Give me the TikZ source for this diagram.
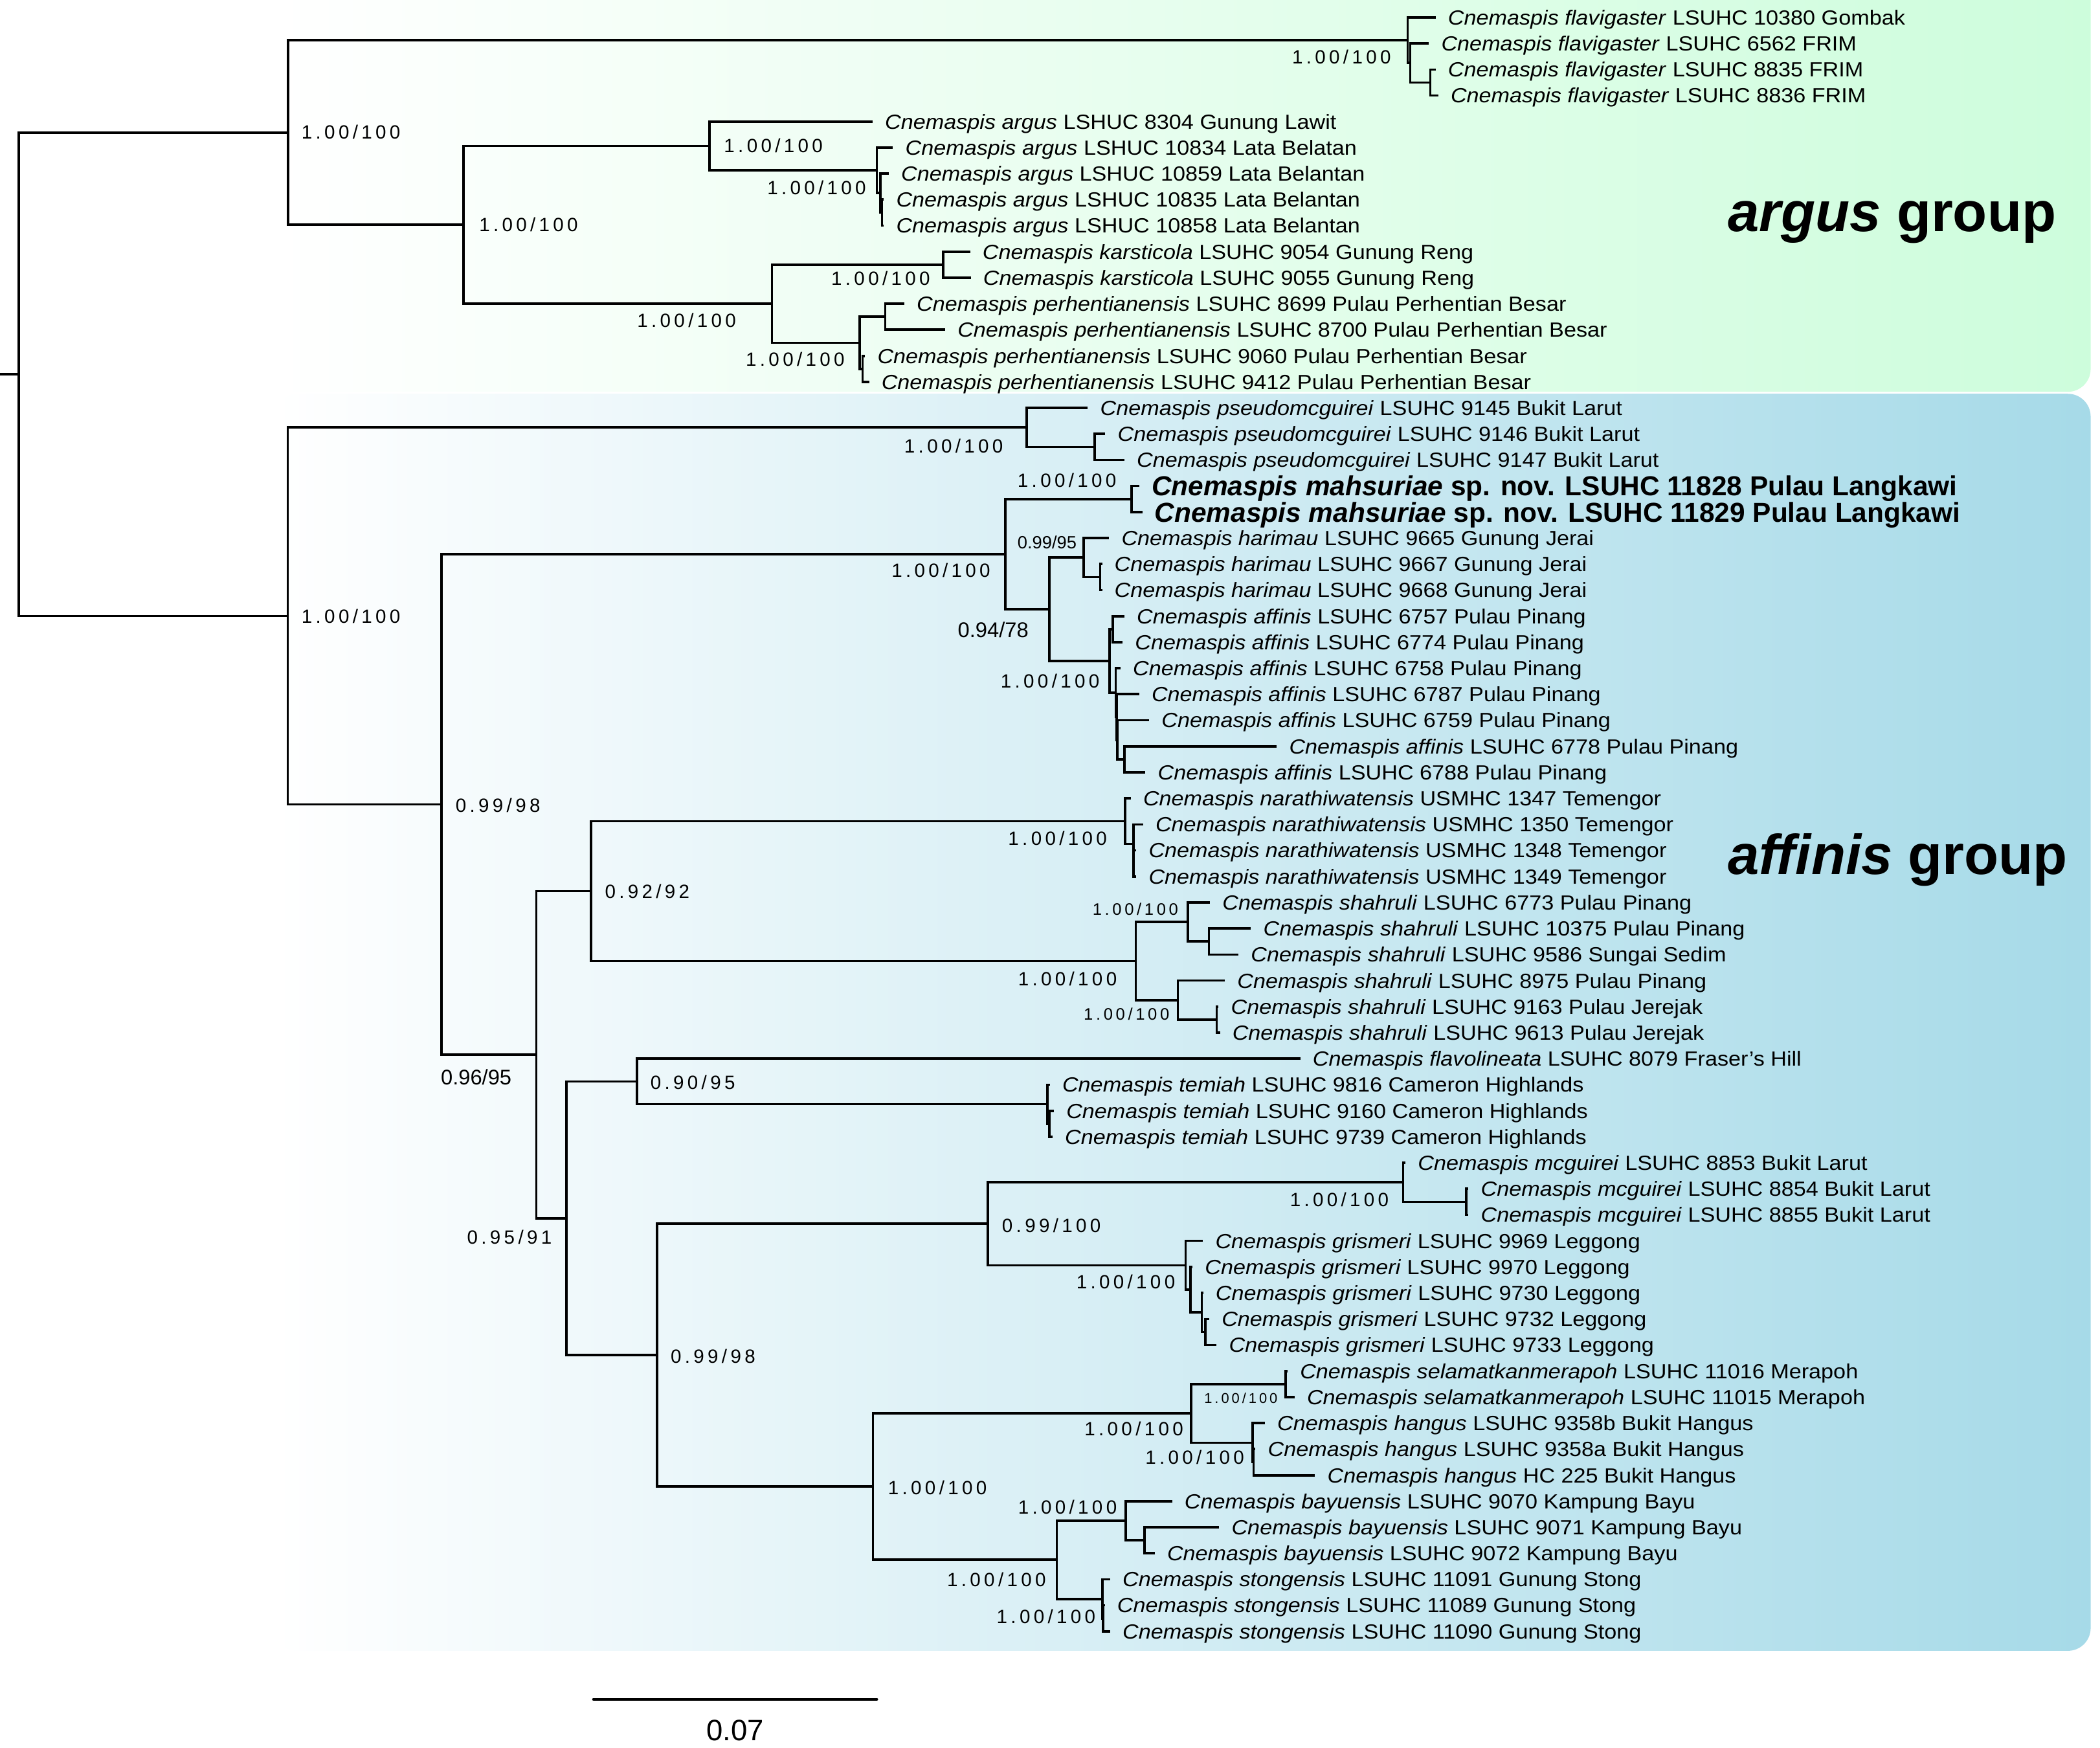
\documentclass[tikz,border=0pt]{standalone}
\usepackage{fontspec}
\setmainfont{Liberation Sans}
\newfontfamily\leaffont{Liberation Sans}[FakeStretch=1.08]
\newfontfamily\trackfont{Liberation Sans}[LetterSpace=18]
\definecolor{argusgreen}{RGB}{205,253,220}
\definecolor{affinisblue}{RGB}{166,218,232}
\tikzset{
  branch/.style={line width=1.8pt, line cap=rect, line join=miter},
  leaf/.style={anchor=base west, inner sep=0pt, font=\leaffont\fontsize{15.3}{18}\selectfont},
  boldleaf/.style={anchor=base west, inner sep=0pt, font=\fontsize{20.5}{24}\selectfont\bfseries},
  bsl/.style={anchor=west, inner sep=0pt, font=\trackfont\fontsize{14.3}{17}\selectfont},
  ssl/.style={anchor=west, inner sep=0pt, font=\trackfont\fontsize{12.4}{15}\selectfont},
  tsl/.style={anchor=west, inner sep=0pt, font=\trackfont\fontsize{10.6}{13}\selectfont},
  nsl/.style={anchor=west, inner sep=0pt, font=\fontsize{15.8}{18}\selectfont},
  msl/.style={anchor=west, inner sep=0pt, font=\fontsize{13.2}{16}\selectfont},
  grp/.style={anchor=base west, inner sep=0pt, font=\fontsize{42}{48}\selectfont\bfseries},
}
\newcommand\Leaf[5]{\coordinate (#1) at (#2,#3);\node[leaf] (#1t) at ([shift={(10,5.5)}]#1) {\textit{Cnemaspis #4} #5};}
\newcommand\Br[2]{\draw[branch] (#1) |- (#2);}
\begin{document}
\begin{tikzpicture}[x=1pt,y=-1pt]
\useasboundingbox (0,0) rectangle (1568,1305);
\clip (0,0) rectangle (1568,1305);
% group backgrounds
\shade[left color=white, right color=argusgreen, rounded corners=17pt] (205,-40) rectangle (1561,292.5);
\shade[left color=white, right color=affinisblue, rounded corners=17pt] (205,294) rectangle (1561,1232.5);
\node[grp] (gargus) at (1290,173) {\textit{argus} group};
\node[grp] (gaffinis) at (1290,653) {\textit{affinis} group};

% leaves
\Leaf{l1}{1071}{13.0}{flavigaster}{LSUHC 10380 Gombak}
\Leaf{l2}{1066}{32.4}{flavigaster}{LSUHC 6562 FRIM}
\Leaf{l3}{1071}{51.9}{flavigaster}{LSUHC 8835 FRIM}
\Leaf{l4}{1073}{71.3}{flavigaster}{LSUHC 8836 FRIM}
\Leaf{l5}{650.6}{90.7}{argus}{LSHUC 8304 Gunung Lawit}
\Leaf{l6}{665.8}{110.2}{argus}{LSHUC 10834 Lata Belatan}
\Leaf{l7}{662.7}{129.6}{argus}{LSHUC 10859 Lata Belantan}
\Leaf{l8}{659}{149.0}{argus}{LSHUC 10835 Lata Belantan}
\Leaf{l9}{659}{168.5}{argus}{LSHUC 10858 Lata Belantan}
\Leaf{l10}{723.5}{187.9}{karsticola}{LSUHC 9054 Gunung Reng}
\Leaf{l11}{724}{207.4}{karsticola}{LSUHC 9055 Gunung Reng}
\Leaf{l12}{674.3}{226.8}{perhentianensis}{LSUHC 8699 Pulau Perhentian Besar}
\Leaf{l13}{704.8}{246.2}{perhentianensis}{LSUHC 8700 Pulau Perhentian Besar}
\Leaf{l14}{645}{265.7}{perhentianensis}{LSUHC 9060 Pulau Perhentian Besar}
\Leaf{l15}{648}{285.1}{perhentianensis}{LSUHC 9412 Pulau Perhentian Besar}
\Leaf{l16}{811.3}{304.5}{pseudomcguirei}{LSUHC 9145 Bukit Larut}
\Leaf{l17}{824.4}{324.0}{pseudomcguirei}{LSUHC 9146 Bukit Larut}
\Leaf{l18}{838.6}{343.4}{pseudomcguirei}{LSUHC 9147 Bukit Larut}
\coordinate (l19) at (849.7,362.8);
\node[boldleaf] (l19t) at ([shift={(10,7.3)}]l19) {\textit{Cnemaspis mahsuriae} sp. nov. LSUHC 11828 Pulau Langkawi};
\coordinate (l20) at (852,382.3);
\node[boldleaf] (l20t) at ([shift={(10,7.3)}]l20) {\textit{Cnemaspis mahsuriae} sp. nov. LSUHC 11829 Pulau Langkawi};
\Leaf{l21}{827.2}{401.7}{harimau}{LSUHC 9665 Gunung Jerai}
\Leaf{l22}{822}{421.1}{harimau}{LSUHC 9667 Gunung Jerai}
\Leaf{l23}{822}{440.6}{harimau}{LSUHC 9668 Gunung Jerai}
\Leaf{l24}{838.6}{460.0}{affinis}{LSUHC 6757 Pulau Pinang}
\Leaf{l25}{837.3}{479.4}{affinis}{LSUHC 6774 Pulau Pinang}
\Leaf{l26}{835.7}{498.9}{affinis}{LSUHC 6758 Pulau Pinang}
\Leaf{l27}{849.7}{518.3}{affinis}{LSUHC 6787 Pulau Pinang}
\Leaf{l28}{857.1}{537.7}{affinis}{LSUHC 6759 Pulau Pinang}
\Leaf{l29}{952.4}{557.2}{affinis}{LSUHC 6778 Pulau Pinang}
\Leaf{l30}{854.3}{576.6}{affinis}{LSUHC 6788 Pulau Pinang}
\Leaf{l31}{843.4}{596.1}{narathiwatensis}{USMHC 1347 Temengor}
\Leaf{l32}{852.6}{615.5}{narathiwatensis}{USMHC 1350 Temengor}
\Leaf{l33}{847.5}{634.9}{narathiwatensis}{USMHC 1348 Temengor}
\Leaf{l34}{847.5}{654.4}{narathiwatensis}{USMHC 1349 Temengor}
\Leaf{l35}{902.6}{673.8}{shahruli}{LSUHC 6773 Pulau Pinang}
\Leaf{l36}{933.1}{693.2}{shahruli}{LSUHC 10375 Pulau Pinang}
\Leaf{l37}{923.8}{712.7}{shahruli}{LSUHC 9586 Sungai Sedim}
\Leaf{l38}{913.7}{732.1}{shahruli}{LSUHC 8975 Pulau Pinang}
\Leaf{l39}{909}{751.5}{shahruli}{LSUHC 9163 Pulau Jerejak}
\Leaf{l40}{910}{771.0}{shahruli}{LSUHC 9613 Pulau Jerejak}
\Leaf{l41}{970}{790.4}{flavolineata}{LSUHC 8079 Fraser’s Hill}
\Leaf{l42}{783}{809.8}{temiah}{LSUHC 9816 Cameron Highlands}
\Leaf{l43}{786}{829.3}{temiah}{LSUHC 9160 Cameron Highlands}
\Leaf{l44}{785}{848.7}{temiah}{LSUHC 9739 Cameron Highlands}
\Leaf{l45}{1048.5}{868.1}{mcguirei}{LSUHC 8853 Bukit Larut}
\Leaf{l46}{1095.5}{887.6}{mcguirei}{LSUHC 8854 Bukit Larut}
\Leaf{l47}{1095.5}{907.0}{mcguirei}{LSUHC 8855 Bukit Larut}
\Leaf{l48}{897.3}{926.4}{grismeri}{LSUHC 9969 Leggong}
\Leaf{l49}{889.5}{945.9}{grismeri}{LSUHC 9970 Leggong}
\Leaf{l50}{897.5}{965.3}{grismeri}{LSUHC 9730 Leggong}
\Leaf{l51}{902}{984.8}{grismeri}{LSUHC 9732 Leggong}
\Leaf{l52}{907.5}{1004.2}{grismeri}{LSUHC 9733 Leggong}
\Leaf{l53}{960.5}{1023.6}{selamatkanmerapoh}{LSUHC 11016 Merapoh}
\Leaf{l54}{965.7}{1043.1}{selamatkanmerapoh}{LSUHC 11015 Merapoh}
\Leaf{l55}{943.5}{1062.5}{hangus}{LSUHC 9358b Bukit Hangus}
\Leaf{l56}{936.5}{1081.9}{hangus}{LSUHC 9358a Bukit Hangus}
\Leaf{l57}{981}{1101.4}{hangus}{HC 225 Bukit Hangus}
\Leaf{l58}{874.3}{1120.8}{bayuensis}{LSUHC 9070 Kampung Bayu}
\Leaf{l59}{909.4}{1140.2}{bayuensis}{LSUHC 9071 Kampung Bayu}
\Leaf{l60}{861.3}{1159.7}{bayuensis}{LSUHC 9072 Kampung Bayu}
\Leaf{l61}{828}{1179.1}{stongensis}{LSUHC 11091 Gunung Stong}
\Leaf{l62}{824}{1198.5}{stongensis}{LSUHC 11089 Gunung Stong}
\Leaf{l63}{828}{1218.0}{stongensis}{LSUHC 11090 Gunung Stong}

% internal nodes
\coordinate (rootstem) at (0,279.4);
\coordinate (root) at (14,279.4);
\coordinate (A) at (215,98.95);
\coordinate (FL1) at (1051,30.0);
\coordinate (FL2) at (1053,47.0);
\coordinate (FL3) at (1068,61.6);
\coordinate (AK) at (346,167.9);
\coordinate (ARG) at (529.6,108.95);
\coordinate (AR2) at (654.7,127.2);
\coordinate (ARX) at (657.5,144.2);
\coordinate (ARY) at (658.5,158.75);
\coordinate (KP) at (576.4,226.8);
\coordinate (KA) at (704.3,197.65);
\coordinate (PE1) at (642,255.95);
\coordinate (PE2) at (661,236.5);
\coordinate (PE3) at (644,275.4);
\coordinate (B) at (214.8,459.85);
\coordinate (PS) at (766.5,319.1);
\coordinate (PS2) at (817.3,333.7);
\coordinate (C) at (329.8,600.6);
\coordinate (MHA) at (750.8,413.7);
\coordinate (MA) at (845,372.55);
\coordinate (HA) at (783.5,454.85);
\coordinate (HR) at (809,416.3);
\coordinate (HR2) at (821.4,430.85);
\coordinate (AF) at (828.4,493.4);
\coordinate (AF1) at (831,469.7);
\coordinate (AF2) at (833.1,517.1);
\coordinate (AF2b) at (833.6,535.3);
\coordinate (AF3) at (834.4,552.3);
\coordinate (AF4) at (839.5,566.9);
\coordinate (D) at (400.5,787.45);
\coordinate (NS) at (441.4,665.3);
\coordinate (N) at (840.1,613.1);
\coordinate (N2) at (846.2,630.1);
\coordinate (N3) at (846.5,644.65);
\coordinate (S) at (848,717.55);
\coordinate (S1) at (886.9,688.4);
\coordinate (S1b) at (902.6,702.95);
\coordinate (S2) at (879.5,746.7);
\coordinate (S2b) at (908.5,761.25);
\coordinate (E) at (423,909.6);
\coordinate (FT) at (475.6,807.4);
\coordinate (T) at (782,824.4);
\coordinate (T2) at (783.5,839.0);
\coordinate (G2) at (490.7,1011.8);
\coordinate (MG) at (737.7,913.7);
\coordinate (MC) at (1047.7,882.7);
\coordinate (MC2) at (1094.7,897.3);
\coordinate (GR) at (885.3,944.65);
\coordinate (GR2) at (889,962.9);
\coordinate (GR3) at (897.3,979.9);
\coordinate (GR4) at (900,994.5);
\coordinate (L1) at (651.8,1109.9);
\coordinate (SH) at (889.2,1055.2);
\coordinate (SEL) at (960,1033.35);
\coordinate (HG) at (935.3,1077.1);
\coordinate (HG2) at (936,1091.65);
\coordinate (BS) at (789.1,1164.55);
\coordinate (BY) at (840.4,1135.4);
\coordinate (BY2) at (854.7,1149.95);
\coordinate (ST) at (823,1193.7);
\coordinate (ST2) at (823.5,1208.25);

% branches
\draw[branch] (rootstem) -- (root);
\Br{root}{A}\Br{root}{B}
\Br{A}{FL1}\Br{A}{AK}
\Br{FL1}{l1}\Br{FL1}{FL2}\Br{FL2}{l2}\Br{FL2}{FL3}\Br{FL3}{l3}\Br{FL3}{l4}
\Br{AK}{ARG}\Br{AK}{KP}
\Br{ARG}{l5}\Br{ARG}{AR2}\Br{AR2}{l6}\Br{AR2}{ARX}\Br{ARX}{l7}\Br{ARX}{ARY}\Br{ARY}{l8}\Br{ARY}{l9}
\Br{KP}{KA}\Br{KP}{PE1}\Br{KA}{l10}\Br{KA}{l11}
\Br{PE1}{PE2}\Br{PE1}{PE3}\Br{PE2}{l12}\Br{PE2}{l13}\Br{PE3}{l14}\Br{PE3}{l15}
\Br{B}{PS}\Br{B}{C}
\Br{PS}{l16}\Br{PS}{PS2}\Br{PS2}{l17}\Br{PS2}{l18}
\Br{C}{MHA}\Br{C}{D}
\Br{MHA}{MA}\Br{MHA}{HA}\Br{MA}{l19}\Br{MA}{l20}
\Br{HA}{HR}\Br{HA}{AF}\Br{HR}{l21}\Br{HR}{HR2}\Br{HR2}{l22}\Br{HR2}{l23}
\Br{AF}{AF1}\Br{AF}{AF2}\Br{AF1}{l24}\Br{AF1}{l25}
\Br{AF2}{l26}\Br{AF2}{AF2b}\Br{AF2b}{l27}\Br{AF2b}{AF3}
\Br{AF3}{l28}\Br{AF3}{AF4}\Br{AF4}{l29}\Br{AF4}{l30}
\Br{D}{NS}\Br{D}{E}
\Br{NS}{N}\Br{NS}{S}
\Br{N}{l31}\Br{N}{N2}\Br{N2}{l32}\Br{N2}{N3}\Br{N3}{l33}\Br{N3}{l34}
\Br{S}{S1}\Br{S}{S2}\Br{S1}{l35}\Br{S1}{S1b}\Br{S1b}{l36}\Br{S1b}{l37}
\Br{S2}{l38}\Br{S2}{S2b}\Br{S2b}{l39}\Br{S2b}{l40}
\Br{E}{FT}\Br{E}{G2}
\Br{FT}{l41}\Br{FT}{T}\Br{T}{l42}\Br{T}{T2}\Br{T2}{l43}\Br{T2}{l44}
\Br{G2}{MG}\Br{G2}{L1}
\Br{MG}{MC}\Br{MG}{GR}\Br{MC}{l45}\Br{MC}{MC2}\Br{MC2}{l46}\Br{MC2}{l47}
\Br{GR}{l48}\Br{GR}{GR2}\Br{GR2}{l49}\Br{GR2}{GR3}\Br{GR3}{l50}\Br{GR3}{GR4}\Br{GR4}{l51}\Br{GR4}{l52}
\Br{L1}{SH}\Br{L1}{BS}
\Br{SH}{SEL}\Br{SH}{HG}\Br{SEL}{l53}\Br{SEL}{l54}
\Br{HG}{l55}\Br{HG}{HG2}\Br{HG2}{l56}\Br{HG2}{l57}
\Br{BS}{BY}\Br{BS}{ST}\Br{BY}{l58}\Br{BY}{BY2}\Br{BY2}{l59}\Br{BY2}{l60}
\Br{ST}{l61}\Br{ST}{ST2}\Br{ST2}{l62}\Br{ST2}{l63}

% support values
\node[bsl] (sFL1) at (964.6,42.7) {1.00/100};
\node[bsl] (sA) at (225,98.5) {1.00/100};
\node[bsl] (sAK) at (357.6,167.7) {1.00/100};
\node[bsl] (sARG) at (540.4,108.5) {1.00/100};
\node[bsl] (sAR2) at (572.7,140) {1.00/100};
\node[bsl] (sKA) at (620.5,207.8) {1.00/100};
\node[bsl] (sKP) at (475.6,239) {1.00/100};
\node[bsl] (sPE1) at (556.7,268) {1.00/100};
\node[bsl] (sB) at (225,460) {1.00/100};
\node[bsl] (sPS) at (675,333) {1.00/100};
\node[bsl] (sMA) at (759.6,358.7) {1.00/100};
\node[bsl] (sMHA) at (665.5,426) {1.00/100};
\node[msl] (sHR) at (759.6,405) {0.99/95};
\node[nsl] (sHA) at (715,470) {0.94/78};
\node[bsl] (sAF) at (747,508.5) {1.00/100};
\node[bsl] (sC) at (340,601.3) {0.99/98};
\node[nsl] (sD) at (329,804) {0.96/95};
\node[bsl] (sNS) at (451.5,665.4) {0.92/92};
\node[bsl] (sN) at (752.6,626) {1.00/100};
\node[bsl] (sS) at (760,730.6) {1.00/100};
\node[ssl] (sS1) at (815.6,679) {1.00/100};
\node[ssl] (sS2) at (809,757) {1.00/100};
\node[bsl] (sE) at (348.6,923.6) {0.95/91};
\node[bsl] (sFT) at (485.5,808.3) {0.90/95};
\node[bsl] (sG2) at (500.6,1012.7) {0.99/98};
\node[bsl] (sMC) at (963,895.8) {1.00/100};
\node[bsl] (sMG) at (748,915) {0.99/100};
\node[bsl] (sGR) at (803.5,957) {1.00/100};
\node[bsl] (sSH) at (809.6,1066.5) {1.00/100};
\node[tsl] (sSEL) at (899,1044) {1.00/100};
\node[bsl] (sHG) at (855,1088) {1.00/100};
\node[bsl] (sL1) at (662.9,1110.7) {1.00/100};
\node[bsl] (sBY) at (760,1125.3) {1.00/100};
\node[bsl] (sBS) at (707,1179.3) {1.00/100};
\node[bsl] (sST) at (744,1206.7) {1.00/100};

% scale bar
\coordinate (sb1) at (443.2,1268.7);
\coordinate (sb2) at (654.6,1268.7);
\draw[line width=2.2pt, line cap=round] (sb1) -- (sb2);
\node[inner sep=0pt, font=\fontsize{22}{26}\selectfont] (sbl) at (549,1292) {0.07};
\end{tikzpicture}
\end{document}
